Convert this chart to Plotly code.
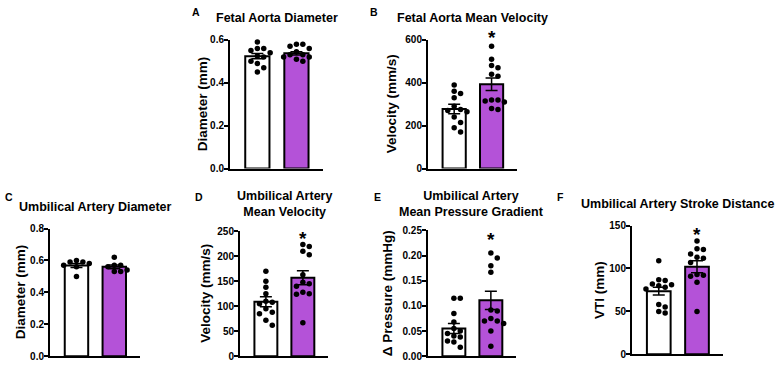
import plotly.graph_objects as go

W, H = 780, 368
FONT = "Liberation Sans, Arial, sans-serif"
PURPLE = "#B452D8"

# ---------------- data ----------------
# A: Fetal aorta diameter (mm)
fa_diam_ctrl = [0.59, 0.56, 0.56, 0.55, 0.54, 0.525, 0.52, 0.50, 0.49, 0.47, 0.45]
fa_diam_trt = [0.58, 0.58, 0.57, 0.56, 0.545, 0.53, 0.53, 0.52, 0.52, 0.51, 0.50]
fa_diam_mean = [0.524, 0.537]
fa_diam_sem = [0.012, 0.008]

# B: Fetal aorta mean velocity (mm/s)
fa_vel_ctrl = [390, 360, 350, 330, 290, 275, 270, 265, 240, 215, 190, 170]
fa_vel_trt = [570, 510, 480, 470, 440, 430, 320, 315, 310, 320, 275, 280]
fa_vel_mean = [278, 393]
fa_vel_sem = [22, 29]

# C: Umbilical artery diameter (mm)
ua_diam_ctrl = [0.60, 0.59, 0.59, 0.58, 0.57, 0.56, 0.50]
ua_diam_trt = [0.62, 0.57, 0.57, 0.56, 0.54, 0.53, 0.53]
ua_diam_mean = [0.568, 0.560]
ua_diam_sem = [0.012, 0.012]

# D: Umbilical artery mean velocity (mm/s)
ua_vel_ctrl = [170, 150, 138, 125, 110, 108, 105, 95, 88, 85, 72, 62]
ua_vel_trt = [224, 220, 210, 203, 163, 148, 145, 140, 128, 125, 124, 67]
ua_vel_mean = [109, 157]
ua_vel_sem = [10, 14]

# E: Umbilical artery mean pressure gradient (mmHg)
ua_pg_ctrl = [0.115, 0.115, 0.085, 0.068, 0.055, 0.045, 0.050, 0.040, 0.038, 0.030, 0.028, 0.018]
ua_pg_trt = [0.205, 0.195, 0.180, 0.167, 0.092, 0.090, 0.075, 0.070, 0.070, 0.065, 0.050, 0.020]
ua_pg_mean = [0.055, 0.111]
ua_pg_sem = [0.010, 0.018]

# F: Umbilical artery stroke distance VTI (mm)
ua_vti_ctrl = [109, 87, 86, 82, 81, 80, 78, 76, 58, 55, 50, 48]
ua_vti_trt = [132, 123, 122, 117, 113, 112, 107, 93, 92, 91, 84, 50]
ua_vti_mean = [73.5, 102]
ua_vti_sem = [4.5, 7]

titles = ["Fetal Aorta Diameter", "Fetal Aorta Mean Velocity", "Umbilical Artery Diameter",
          "Umbilical Artery<br>Mean Velocity", "Umbilical Artery<br>Mean Pressure Gradient",
          "Umbilical Artery Stroke Distance"]
letters = ["A", "B", "C", "D", "E", "F"]
ytitles = ["Diameter (mm)", "Velocity (mm/s)", "Diameter (mm)", "Velocity (mm/s)",
           "Δ Pressure (mmHg)", "VTI (mm)"]
ytick_vals = [[0, 0.2, 0.4, 0.6], [0, 200, 400, 600], [0, 0.2, 0.4, 0.6, 0.8],
              [0, 50, 100, 150, 200, 250], [0, 0.05, 0.10, 0.15, 0.20, 0.25], [0, 50, 100, 150]]
ytick_fmt = [".1f", "d", ".1f", "d", ".2f", "d"]
star_y = [None, 632, None, 245, 0.2415, 146]   # asterisk heights (None = no asterisk)

panels_ctrl = [fa_diam_ctrl, fa_vel_ctrl, ua_diam_ctrl, ua_vel_ctrl, ua_pg_ctrl, ua_vti_ctrl]
panels_trt = [fa_diam_trt, fa_vel_trt, ua_diam_trt, ua_vel_trt, ua_pg_trt, ua_vti_trt]
panels_mean = [fa_diam_mean, fa_vel_mean, ua_diam_mean, ua_vel_mean, ua_pg_mean, ua_vti_mean]
panels_sem = [fa_diam_sem, fa_vel_sem, ua_diam_sem, ua_vel_sem, ua_pg_sem, ua_vti_sem]

# ---------------- layout geometry (pixels) ----------------
boxes = [(230, 323, 35, 168), (428, 517, 35, 168), (50, 140, 230, 362),
         (240, 328, 233, 362), (428, 516, 232, 362), (632, 723, 227, 360)]
ytitle_x = [202, 391, 20, 206, 387, 600]
title_y = [12, 12, 208, 205, 205, 205]
letter_pos = [(190, 6), (368, 6), (3, 197), (193, 197), (372, 197), (555, 197)]
XR = [-0.7, 1.68]
BAR_W = 0.62

fig = go.Figure()
annotations = []


def swarm(vals, ppu, unit_px, step=6.4, dmin=5.8):
    placed = []
    offs = [0.0] * len(vals)
    order = sorted(range(len(vals)), key=lambda i: -vals[i])
    cands = [0]
    for k in range(1, 8):
        cands += [k * step, -k * step]
    for i in order:
        ypx = vals[i] * ppu
        for c in cands:
            if all((c - px) ** 2 + (ypx - py) ** 2 >= dmin ** 2 for px, py in placed):
                placed.append((c, ypx))
                offs[i] = c / unit_px
                break
    return offs


for p in range(6):
    n = "" if p == 0 else str(p + 1)
    xl, xr, yt, yb = boxes[p]
    ymax = ytick_vals[p][-1]
    ppu = (yb - yt) / ymax
    unit_px = (xr - xl) / (XR[1] - XR[0])
    ydom = [1 - yb / H, 1 - yt / H]
    fig.add_trace(go.Bar(
        x=[0, 1], y=panels_mean[p], width=BAR_W,
        marker=dict(color=["white", PURPLE], line=dict(color="black", width=2)),
        error_y=dict(type="data", array=panels_sem[p], color="black", thickness=1.5, width=6),
        xaxis="x" + n, yaxis="y" + n, showlegend=False, hoverinfo="skip"))
    for g, vals in enumerate([panels_ctrl[p], panels_trt[p]]):
        offs = swarm(vals, ppu, unit_px)
        fig.add_trace(go.Scatter(
            x=[g + o for o in offs], y=vals, mode="markers",
            marker=dict(color="black", size=5.5),
            xaxis="x" + n, yaxis="y" + n, showlegend=False, cliponaxis=False))
    fig.layout["xaxis" + n] = dict(
        domain=[xl / W, xr / W], anchor="y" + n, range=XR, showline=True, linewidth=2,
        linecolor="black", showticklabels=False, ticks="", showgrid=False, zeroline=False,
        fixedrange=True)
    fig.layout["yaxis" + n] = dict(
        domain=ydom, anchor="x" + n, range=[0, ymax], showline=True,
        linewidth=2, linecolor="black", ticks="outside", ticklen=4, tickwidth=1.5,
        tickcolor="black", tickvals=ytick_vals[p], tickformat=ytick_fmt[p],
        ticklabelstandoff=-2,
        tickfont=dict(family=FONT, size=10, color="black", weight="bold"),
        showgrid=False, zeroline=False, fixedrange=True)
    xc = (xl + xr) / 2
    annotations.append(dict(
        x=xc / W, y=1 - title_y[p] / H, xref="paper", yref="paper", text="<b>" + titles[p] + "</b>",
        showarrow=False, xanchor="center", yanchor="middle",
        font=dict(family=FONT, size=12.5, color="black")))
    annotations.append(dict(
        x=letter_pos[p][0] / W, y=1 - letter_pos[p][1] / H, xref="paper", yref="paper",
        text="<b>" + letters[p] + "</b>", showarrow=False, xanchor="left", yanchor="middle",
        font=dict(family=FONT, size=10.5, color="black")))
    annotations.append(dict(
        x=ytitle_x[p] / W, y=1 - (yt + yb) / 2 / H, xref="paper", yref="paper",
        text="<b>" + ytitles[p] + "</b>", textangle=-90, showarrow=False,
        xanchor="center", yanchor="middle", font=dict(family=FONT, size=13.5, color="black")))
    if star_y[p] is not None:
        # convert the asterisk's data height to paper coordinates (it may sit above the axis top)
        yp = ydom[0] + star_y[p] / ymax * (ydom[1] - ydom[0])
        annotations.append(dict(
            x=1, y=yp, xref="x" + n, yref="paper", text="<b>*</b>", showarrow=False,
            xanchor="center", yanchor="middle", yshift=-5,
            font=dict(family=FONT, size=19, color="black")))

fig.update_layout(
    width=W, height=H, margin=dict(l=0, r=0, t=0, b=0), paper_bgcolor="white",
    plot_bgcolor="white", annotations=annotations, barmode="overlay",
    font=dict(family=FONT, color="black"))

fig.write_html("out.html", config={"displayModeBar": False},
               post_script="document.body.style.margin='0';")
